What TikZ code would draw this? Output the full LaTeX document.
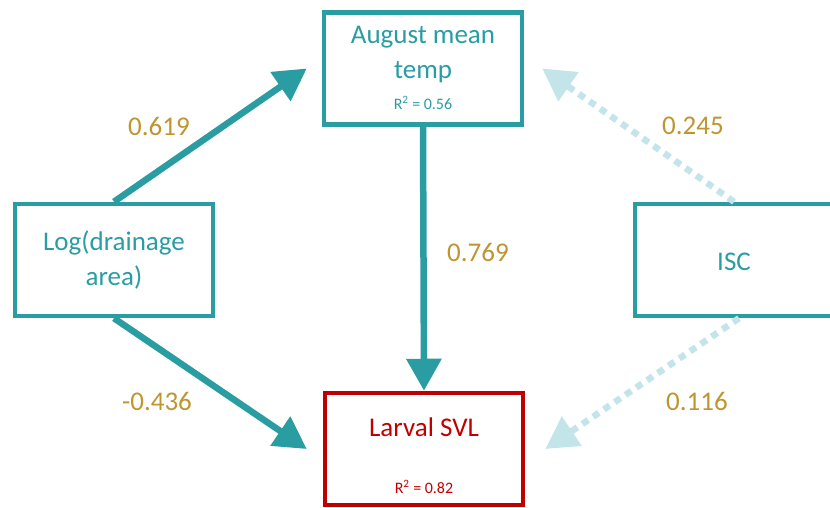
\documentclass[tikz,border=0pt]{standalone}
\usepackage{fontspec}
\setmainfont{Carlito}
\usetikzlibrary{arrows.meta}
\definecolor{pathteal}{HTML}{2A9DA3}
\definecolor{pathlight}{HTML}{C3E5EA}
\definecolor{coefgold}{HTML}{BF9530}
\definecolor{resred}{HTML}{C00000}
\begin{document}
\begin{tikzpicture}[x=1pt, y=1pt,
    varbox/.style={draw=pathteal, line width=4.5pt, minimum width=198pt, minimum height=112pt, inner sep=0pt},
    vartext/.style={text=pathteal, align=center, font=\fontsize{27}{35}\selectfont},
    rsqtext/.style={text=pathteal, font=\fontsize{16}{18}\selectfont},
    coef/.style={text=coefgold, font=\fontsize{27}{32}\selectfont},
    sigpath/.style={draw=pathteal, line width=6.5pt, -{Triangle[length=32pt, width=34pt]}},
    weakpath/.style={draw=pathlight, line width=6.5pt, dash pattern=on 7pt off 6pt, -{Triangle[length=32pt, width=34pt]}}]
    \useasboundingbox (0,0) rectangle (830,508);

    % Variable boxes
    \node[varbox] (temp) at (423,439.5) {};
    \node[varbox] (drain) at (114,248) {};
    \node[varbox] (isc) at (734,248) {};
    \node[varbox, draw=resred] (svl) at (424,59) {};

    % Box texts
    \node[vartext] (templbl) at ([yshift=13.5pt]temp.center) {August mean\\temp};
    \node[rsqtext] (temprsq) at ([yshift=-34.5pt]temp.center) {R\textsuperscript{2} = 0.56};
    \node[vartext] (drainlbl) at (drain.center) {Log(drainage\\area)};
    \node[vartext] (isclbl) at ([yshift=-2pt]isc.center) {ISC};
    \node[vartext, text=resred] (svllbl) at ([yshift=22pt]svl.center) {Larval SVL};
    \node[rsqtext, text=resred] (svlrsq) at ([yshift=-38pt]svl.center) {R\textsuperscript{2} = 0.82};

    % Paths
    \draw[sigpath] (drain.north) -- ([xshift=-15pt]temp.west);
    \draw[sigpath] (drain.south) -- ([xshift=-16pt]svl.west);
    \draw[sigpath] (temp.south) -- (svl.north);
    \draw[weakpath] (isc.north) -- ([xshift=18pt]temp.east);
    \draw[weakpath] ([xshift=5pt]isc.south) -- ([xshift=20pt]svl.east);

    % Path coefficients
    \node[coef] (c1) at (159,382) {0.619};
    \node[coef] (c2) at (157,107) {-0.436};
    \node[coef] (c3) at (478,256) {0.769};
    \node[coef] (c4) at (693,382) {0.245};
    \node[coef] (c5) at (697,107) {0.116};
\end{tikzpicture}
\end{document}
